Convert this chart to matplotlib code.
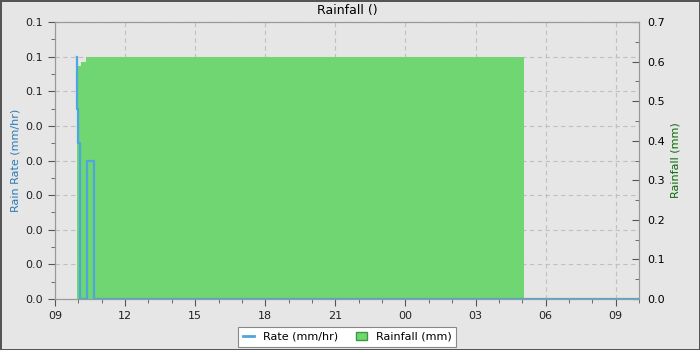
import matplotlib
matplotlib.use("Agg")
import matplotlib.pyplot as plt
import matplotlib.dates as mdates
import pandas as pd
from matplotlib.lines import Line2D
from matplotlib.patches import Patch

# Datos
rate_time = ["2024-05-01 09:56", "2024-05-01 09:56", "2024-05-01 10:00", "2024-05-01 10:03",
             "2024-05-01 10:04", "2024-05-01 10:22", "2024-05-01 10:40", "2024-05-02 10:00"]
rate_val = [0.07, 0.055, 0.045, 0.04, 0.0, 0.04, 0.0, 0.0]

rain_time = ["2024-05-01 09:57", "2024-05-01 10:07", "2024-05-01 10:20", "2024-05-02 05:04"]
rain_val = [0.59, 0.60, 0.612, 0.612]

left_ticks = [0.0, 0.01, 0.02, 0.03, 0.04, 0.05, 0.06, 0.07, 0.08]
left_labels = ["0.0", "0.0", "0.0", "0.0", "0.0", "0.0", "0.1", "0.1", "0.1"]

rate_t = pd.to_datetime(rate_time)
rain_t = pd.to_datetime(rain_time)
x0, x1 = pd.Timestamp("2024-05-01 09:00"), pd.Timestamp("2024-05-02 10:00")

bg = "#e6e6e6"
fig = plt.figure(figsize=(7, 3.5), dpi=100, facecolor=bg, edgecolor="#555555", linewidth=2)
ax = fig.add_axes([0.0786, 0.1457, 0.8343, 0.7914], facecolor=bg)
ax2 = ax.twinx()   # lluvia acumulada (eje derecho)
ax3 = ax.twinx()   # tasa, misma escala que el eje izquierdo

ax2.fill_between(rain_t, rain_val, 0, step="post", color="#6fd672", linewidth=0)
ax3.plot(rate_t, rate_val, drawstyle="steps-post", color="#4da6dd", linewidth=1.6)

for a in (ax, ax2, ax3):
    a.set_xlim(x0, x1)
ax.set_ylim(0, 0.08)
ax3.set_ylim(0, 0.08)
ax2.set_ylim(0, 0.7)
ax3.axis("off")

ax.set_yticks(left_ticks)
ax.set_yticklabels(left_labels)
ax.set_yticks([t + 0.005 for t in left_ticks[:-1]], minor=True)
ax2.set_yticks([i / 10 for i in range(8)])
ax2.set_yticks([i / 10 + 0.05 for i in range(7)], minor=True)
ax2.yaxis.set_major_formatter(matplotlib.ticker.FormatStrFormatter("%.1f"))

ax.xaxis.set_major_locator(mdates.HourLocator(byhour=range(0, 24, 3)))
ax.xaxis.set_minor_locator(mdates.HourLocator())
ax.xaxis.set_major_formatter(mdates.DateFormatter("%H"))

ax.grid(True, which="major", linestyle=(0, (4, 3)), color="#c0c0c0", linewidth=0.8)
ax.tick_params(labelsize=8, colors="#222222")
ax.tick_params(axis="both", which="major", length=5, color="#555555")
ax.tick_params(axis="both", which="minor", length=3, color="#555555")
ax2.tick_params(axis="y", which="both", direction="in", labelsize=8, color="#555555", pad=6)
ax2.tick_params(axis="y", which="major", length=5)
ax2.tick_params(axis="y", which="minor", length=3)

for a in (ax, ax2):
    for s in a.spines.values():
        s.set_color("#999999")

ax.set_ylabel("Rain Rate (mm/hr)", color="#2a7ab8", fontsize=8)
ax2.set_ylabel("Rainfall (mm)", color="#0a6a0a", fontsize=8)
ax.set_title("Rainfall ()", fontsize=9, pad=6)

handles = [Line2D([0], [0], color="#4da6dd", linewidth=2),
           Patch(facecolor="#6fd672", edgecolor="#3a9a3a")]
leg = ax3.legend(handles, ["Rate (mm/hr)", "Rainfall (mm)"], loc="upper center",
                 bbox_to_anchor=(0.5, -0.08), ncol=2, fontsize=8, fancybox=False,
                 framealpha=1, edgecolor="#888888", handlelength=1.0, handleheight=0.8,
                 columnspacing=1.6, borderpad=0.45)
leg.get_frame().set_linewidth(0.8)

fig.savefig("out.png", dpi=100, facecolor=bg, edgecolor="#555555")
